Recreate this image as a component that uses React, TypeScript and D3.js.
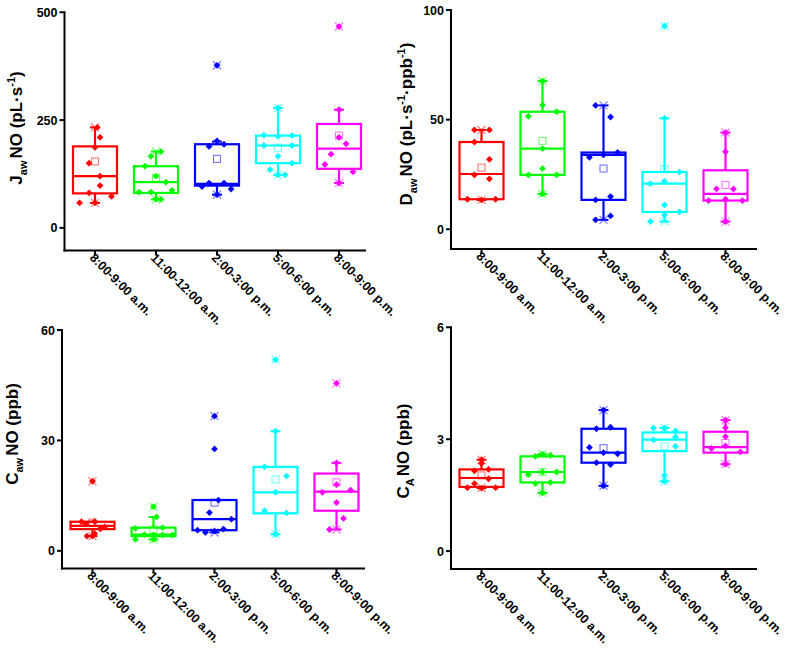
import React from "react";
import * as d3 from "d3";

const categories = ["8:00-9:00 a.m.", "11:00-12:00 a.m.", "2:00-3:00 p.m.", "5:00-6:00 p.m.", "8:00-9:00 p.m."];
const colors = ["#ff0000", "#00ff00", "#0000ff", "#00ffff", "#ff00ff"];

// ---- Panel A: J_aw NO ----
const jQ1 = [80, 81, 98, 150, 137];
const jMedian = [120, 106, 102, 191, 184];
const jQ3 = [189, 143, 194, 214, 241];
const jWhiskerLow = [58, 66, 77, 123, 104];
const jWhiskerHigh = [233, 177, 200, 278, 274];
const jMean = [154, 116, 160, 186, 214];
const jPoints = [
  [233, 210, 187, 150, 120, 98, 81, 73, 58, 58],
  [177, 166, 143, 120, 106, 83, 83, 87, 67, 66],
  [377, 202, 189, 194, 96, 104, 104, 90, 77],
  [278, 215, 212, 214, 191, 191, 166, 150, 135, 123, 123],
  [467, 274, 210, 195, 171, 147, 130, 104],
];
const jJitter = [
  [0.1, 0.23, 0, -0.27, 0.23, 0.23, -0.27, 0.75, -0.7, 0],
  [0.23, -0.23, -0.5, 0, 0.45, -0.77, -0.23, 0.73, 0, 0.23],
  [0, 0, -0.36, 0.32, -0.68, -0.36, 0.32, 0.64, 0],
  [0, -0.64, 0, 0.64, -0.64, 0.64, 0, 0.64, -0.36, 0, 0.32],
  [0, 0, 0, 0.32, -0.36, -0.64, 0.64, 0],
];
const jTicks = [0, 250, 500];

// ---- Panel B: D_aw NO ----
const dQ1 = [13.7, 24.8, 13.4, 7.9, 13.1];
const dMedian = [25.2, 36.8, 33.9, 20.8, 16.1];
const dQ3 = [39.8, 53.6, 35, 26.1, 26.9];
const dWhiskerLow = [13.4, 16.1, 4.3, 3.5, 3.5];
const dWhiskerHigh = [45.3, 67.6, 56.5, 50.6, 44.1];
const dMean = [28.1, 40.3, 27.7, 27.4, 20.2];
const dPoints = [
  [45.3, 45.3, 39.8, 31.9, 24.8, 23, 13.7, 13.4, 13.7],
  [67.6, 56.7, 51.5, 53.6, 36.8, 27.7, 24.8, 24.8, 16.1],
  [56.5, 51.2, 32.8, 33.9, 35, 13.4, 14.9, 4.3, 6.1],
  [92.7, 50.6, 26.1, 20.8, 21.9, 11.1, 7.9, 6.5, 3.5],
  [44.1, 35.4, 18.4, 18.4, 13.1, 13.7, 13.1, 3.5],
];
const dJitter = [
  [-0.32, 0.36, -0.32, 0.36, -0.32, 0.36, -0.64, 0, 0.64],
  [0, 0, -0.64, 0.64, 0, 0, -0.64, 0.64, 0],
  [-0.36, 0.32, -0.64, 0, 0.64, -0.36, 0.32, -0.36, 0.32],
  [0, 0, 0.68, -0.64, 0, 0, 0.68, 0, -0.64],
  [0, 0, -0.41, 0.36, -0.77, 0, 0.77, 0],
];
const dTicks = [0, 50, 100];

// ---- Panel C: C_aw NO ----
const cQ1 = [5.9, 4.0, 5.6, 10.2, 10.9];
const cMedian = [6.8, 4.4, 8.6, 15.9, 16.1];
const cQ3 = [7.9, 6.3, 13.8, 22.8, 21.0];
const cWhiskerLow = [4.0, 3.1, 5.0, 4.5, 5.8];
const cWhiskerHigh = [7.9, 9.2, 13.8, 32.5, 23.9];
const cMean = [7.7, 5.8, 13.1, 19.4, 18.6];
const cPoints = [
  [18.9, 7.9, 7.9, 7.3, 6.5, 6.0, 4.7, 4.0, 4.0],
  [12.0, 9.2, 6.1, 6.3, 4.4, 4.3, 4.3, 4.3, 3.1, 3.1],
  [36.6, 27.7, 13.8, 10.4, 8.6, 5.6, 5.0, 5.4, 5.9],
  [51.9, 32.5, 22.8, 20.3, 15.9, 10.9, 10.3, 4.5],
  [45.5, 23.9, 18.0, 16.5, 15.9, 13.1, 8.8, 5.8],
];
const cJitter = [
  [0, -0.5, 0.1, -0.3, 0.55, 0.35, 0.1, -0.25, 0],
  [0, 0.14, -0.82, 0.41, -0.41, 0, 0.41, 0.86, -0.82, 0],
  [0, 0, 0.18, -0.23, 0.77, -0.77, -0.41, 0, 0.41],
  [0, 0, -0.5, 0.5, 0, -0.5, 0.5, 0],
  [0, 0, 0, 0.64, -0.64, 0, 0.32, -0.32],
];
const cTicks = [0, 30, 60];

// ---- Panel D: C_A NO ----
const aQ1 = [1.72, 1.84, 2.37, 2.68, 2.64];
const aMedian = [1.96, 2.12, 2.64, 2.99, 2.79];
const aQ3 = [2.19, 2.54, 3.28, 3.18, 3.2];
const aWhiskerLow = [1.69, 1.56, 1.75, 1.87, 2.33];
const aWhiskerHigh = [2.45, 2.6, 3.78, 3.3, 3.51];
const aMean = [2.03, 2.12, 2.76, 2.81, 2.9];
const aPoints = [
  [2.45, 2.35, 2.15, 2.19, 1.94, 1.81, 1.7, 1.69, 1.7],
  [2.54, 2.6, 2.57, 2.05, 2.12, 2.12, 1.81, 1.84, 1.56],
  [3.78, 3.28, 3.32, 2.78, 2.64, 2.61, 2.37, 2.32, 1.75],
  [3.3, 3.3, 3.22, 3.06, 2.98, 2.81, 2.03, 1.87],
  [3.51, 3.31, 3.07, 2.82, 2.75, 2.66, 2.33],
];
const aJitter = [
  [0, 0, -0.32, 0.32, 0.32, -0.32, -0.64, 0, 0.64],
  [-0.32, 0, 0.36, -0.64, 0, 0.64, -0.32, 0.36, 0],
  [0, -0.32, 0.32, -0.64, 0, 0.64, -0.32, 0.32, 0],
  [-0.5, 0, 0.5, 0.5, -0.5, 0.5, 0, 0],
  [0, 0, 0, 0, -0.64, 0.68, 0],
];
const aTicks = [0, 3, 6];

type TitlePart = { t: string; k: "n" | "sub" | "sup" };

const panels = [
  {
    q1: jQ1, med: jMedian, q3: jQ3, wlo: jWhiskerLow, whi: jWhiskerHigh, mean: jMean, pts: jPoints, jit: jJitter, ticks: jTicks,
    domain: [-52.5, 500], left: 64.5, right: 366, top: 12.3, bottom: 250.5, titleX: 22, titleY: 128,
    title: [{ t: "J", k: "n" }, { t: "aw", k: "sub" }, { t: "NO (pL·s", k: "n" }, { t: "-1", k: "sup" }, { t: ")", k: "n" }] as TitlePart[],
  },
  {
    q1: dQ1, med: dMedian, q3: dQ3, wlo: dWhiskerLow, whi: dWhiskerHigh, mean: dMean, pts: dPoints, jit: dJitter, ticks: dTicks,
    domain: [-9, 100], left: 451, right: 757, top: 10, bottom: 249, titleX: 412, titleY: 124,
    title: [{ t: "D", k: "n" }, { t: "aw", k: "sub" }, { t: "NO (pL·s", k: "n" }, { t: "-1", k: "sup" }, { t: "·ppb", k: "n" }, { t: "-1", k: "sup" }, { t: ")", k: "n" }] as TitlePart[],
  },
  {
    q1: cQ1, med: cMedian, q3: cQ3, wlo: cWhiskerLow, whi: cWhiskerHigh, mean: cMean, pts: cPoints, jit: cJitter, ticks: cTicks,
    domain: [-4.8, 60], left: 62, right: 365, top: 330, bottom: 568.5, titleX: 18, titleY: 434,
    title: [{ t: "C", k: "n" }, { t: "aw", k: "sub" }, { t: "NO (ppb)", k: "n" }] as TitlePart[],
  },
  {
    q1: aQ1, med: aMedian, q3: aQ3, wlo: aWhiskerLow, whi: aWhiskerHigh, mean: aMean, pts: aPoints, jit: aJitter, ticks: aTicks,
    domain: [-0.48, 6], left: 451, right: 757, top: 327.3, bottom: 569, titleX: 409, titleY: 451,
    title: [{ t: "C", k: "n" }, { t: "A", k: "sub" }, { t: "NO (ppb)", k: "n" }] as TitlePart[],
  },
];

const HALF = 22;
const diamond = "M0,-3.4L3.4,0L0,3.4L-3.4,0Z";

function Title({ parts, x, y }: { parts: TitlePart[]; x: number; y: number }) {
  let shift = 0;
  let prev: string = "n";
  const spans = parts.map((p, i) => {
    const target = p.k === "sub" ? 5 : p.k === "sup" ? -7 : 0;
    const dy = target - shift;
    shift = target;
    const dx = prev === "sub" && p.k === "n" ? 2 : 0;
    prev = p.k;
    return (
      <tspan key={i} dy={dy} dx={dx} fontSize={p.k === "n" ? 17 : 11}>
        {p.t}
      </tspan>
    );
  });
  return (
    <text
      transform={`translate(${x},${y}) rotate(-90)`}
      textAnchor="middle"
      fontFamily="Liberation Sans, Arial, sans-serif"
      fontWeight="bold"
      fontSize={17}
      fill="#000"
    >
      {spans}
    </text>
  );
}

function Panel({ p }: { p: (typeof panels)[number] }) {
  const y = d3.scaleLinear().domain(p.domain).range([p.bottom, p.top]);
  const x = d3.scalePoint<string>().domain(categories).range([p.left + 30.5, p.left + 30.5 + 4 * 61]);
  return (
    <g>
      {categories.map((c, i) => {
        const cx = x(c) as number;
        const col = colors[i];
        const [mn, mx] = d3.extent(p.pts[i]) as [number, number];
        return (
          <g key={c}>
            <line x1={cx} x2={cx} y1={y(p.q3[i])} y2={y(p.whi[i])} stroke={col} strokeWidth={2.2} />
            <line x1={cx} x2={cx} y1={y(p.q1[i])} y2={y(p.wlo[i])} stroke={col} strokeWidth={2.2} />
            <line x1={cx - 5} x2={cx + 5} y1={y(p.whi[i])} y2={y(p.whi[i])} stroke={col} strokeWidth={2} />
            <line x1={cx - 5} x2={cx + 5} y1={y(p.wlo[i])} y2={y(p.wlo[i])} stroke={col} strokeWidth={2} />
            <rect
              x={cx - HALF}
              y={y(p.q3[i])}
              width={2 * HALF}
              height={y(p.q1[i]) - y(p.q3[i])}
              fill="none"
              stroke={col}
              strokeWidth={2.2}
            />
            <line x1={cx - HALF} x2={cx + HALF} y1={y(p.med[i])} y2={y(p.med[i])} stroke={col} strokeWidth={2.2} />
            <rect
              x={cx - 3.5}
              y={y(p.mean[i]) - 3.5}
              width={7}
              height={7}
              fill="none"
              stroke={col}
              strokeOpacity={0.55}
              strokeWidth={1.1}
            />
            {p.pts[i].map((v, j) => (
              <path key={j} d={diamond} transform={`translate(${cx + p.jit[i][j] * HALF},${y(v)})`} fill={col} />
            ))}
            {[mn, mx].map((v, j) => (
              <path
                key={"x" + j}
                d="M-4,-4L4,4M-4,4L4,-4"
                transform={`translate(${cx},${y(v)})`}
                stroke={col}
                strokeOpacity={0.5}
                strokeWidth={1.3}
                fill="none"
              />
            ))}
          </g>
        );
      })}
      {/* axes */}
      <line x1={p.left} x2={p.left} y1={p.top - 1} y2={p.bottom + 1} stroke="#000" strokeWidth={2} />
      <line x1={p.left - 1} x2={p.right} y1={p.bottom} y2={p.bottom} stroke="#000" strokeWidth={2} />
      {p.ticks.map((t) => (
        <g key={t}>
          <line x1={p.left - 5} x2={p.left} y1={y(t)} y2={y(t)} stroke="#000" strokeWidth={2} />
          <text
            x={p.left - 7}
            y={y(t)}
            dy="0.36em"
            textAnchor="end"
            fontFamily="Liberation Sans, Arial, sans-serif"
            fontWeight="bold"
            fontSize={12.5}
          >
            {t}
          </text>
        </g>
      ))}
      {categories.map((c) => {
        const cx = x(c) as number;
        return (
          <g key={"t" + c}>
            <line x1={cx} x2={cx} y1={p.bottom} y2={p.bottom + 5} stroke="#000" strokeWidth={2} />
            <text
              transform={`translate(${cx - 6},${p.bottom + 8}) rotate(45)`}
              fontFamily="Liberation Sans, Arial, sans-serif"
              fontWeight="bold"
              fontSize={12.4}
              fill="#000"
            >
              {c}
            </text>
          </g>
        );
      })}
      <Title parts={p.title} x={p.titleX} y={p.titleY} />
    </g>
  );
}

export default function App() {
  return (
    <svg width={787} height={655} style={{ position: "absolute", left: 0, top: 0, background: "#fff" }}>
      <rect width={787} height={655} fill="#fff" />
      {panels.map((p, i) => (
        <Panel key={i} p={p} />
      ))}
    </svg>
  );
}
